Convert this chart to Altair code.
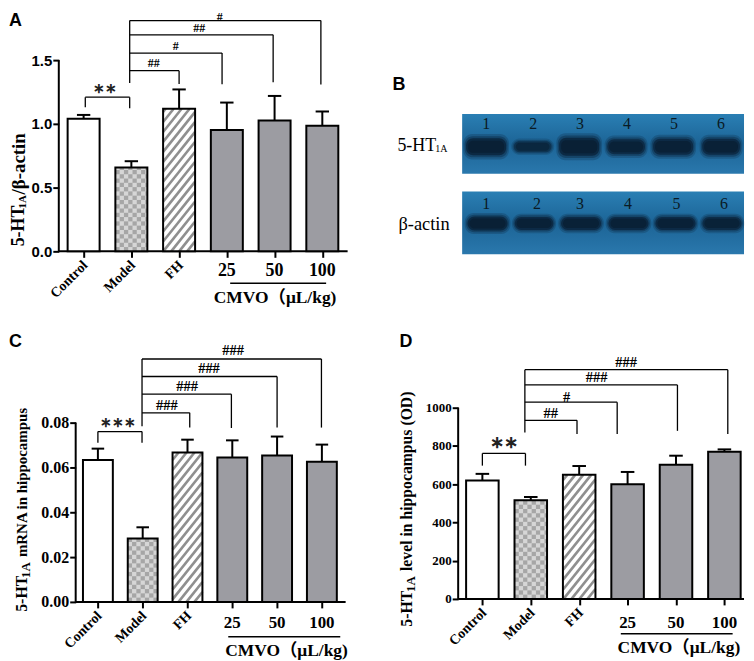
import altair as alt
import pandas as pd

SERIF = "Liberation Serif"
SANS = "Liberation Sans"
SERIF_CJK = "Liberation Serif, Noto Sans CJK SC"

# ---------------------------------------------------------
# DATA
# ---------------------------------------------------------
groups = ["Control", "Model", "FH", "25", "50", "100"]

a_means = [1.04, 0.658, 1.118, 0.951, 1.027, 0.985]
a_tops = [1.07, 0.707, 1.27, 1.167, 1.219, 1.097]
a_ticks = [0.0, 0.5, 1.0, 1.5]
a_links = [1.417, 1.555, 1.698, 1.81]
a_link_x = [2.0, 2.9, 3.97, 4.97]
a_link_ends = [1.313, 1.31, 1.326, 1.308]
a_hash = ["##", "#", "##", "#"]
a_hash_x = [1.47, 1.93, 2.42, 2.85]
a_hash_y = [1.477, 1.607, 1.755, 1.836]

c_means = [0.0633, 0.0283, 0.0667, 0.0644, 0.0653, 0.0625]
c_tops = [0.0684, 0.0333, 0.0724, 0.0721, 0.0738, 0.0702]
c_ticks = [0.0, 0.02, 0.04, 0.06, 0.08]
c_links = [0.0844, 0.0927, 0.1006, 0.1084]
c_link_x = [2.05, 2.98, 4.0, 4.99]
c_link_ends = [0.0778, 0.0776, 0.0778, 0.0778]
c_hash = ["###", "###", "###", "###"]
c_hash_x = [1.54, 1.99, 2.48, 3.02]
c_hash_y = [0.0875, 0.0958, 0.1038, 0.1118]

d_means = [619, 516, 649, 600, 702, 770]
d_tops = [654, 533, 695, 664, 749, 782]
d_ticks = [0, 200, 400, 600, 800, 1000]
d_links = [934, 1029, 1119, 1199]
d_link_x = [1.955, 2.785, 4.03, 5.07]
d_link_ends = [862, 862, 879, 863]
d_hash = ["##", "#", "###", "###"]
d_hash_x = [1.41, 1.74, 2.36, 2.97]
d_hash_y = [967, 1052, 1156, 1233]

# blot: lane centres, band widths (lane units), band heights and darkness
lanes = [1, 2, 3, 4, 5, 6]
top_lane_x = [1.0, 1.99, 2.98, 3.98, 4.98, 6.0]
top_band_w = [0.85, 0.8, 0.85, 0.8, 0.85, 0.8]
top_band_h = [17, 11, 18, 15, 16, 16]
top_band_k = [1.0, 0.75, 1.0, 0.9, 0.95, 0.95]
low_lane_x = [1.03, 2.02, 3.02, 4.03, 5.03, 6.02]
low_label_x = [1.0, 2.08, 3.0, 4.02, 5.05, 6.06]
low_band_w = [0.85, 0.82, 0.85, 0.85, 0.85, 0.83]
low_band_h = [14, 13, 13, 13, 13, 13]
low_band_k = [1.0, 0.95, 0.95, 0.95, 0.95, 0.9]


# ---------------------------------------------------------
# HATCHING HELPERS (fills drawn as marks)
# ---------------------------------------------------------
def checker_cells(x0, x1, y1, ux, uy, cell=4.3):
    rows = []
    nx = int((x1 - x0) / ux / cell) + 1
    ny = int(y1 / uy / cell) + 1
    for i in range(nx):
        for j in range(ny):
            if (i + j) % 2 == 0:
                rows.append({
                    "x": x0 + i * cell * ux,
                    "x2": min(x1, x0 + (i + 1) * cell * ux),
                    "y": j * cell * uy,
                    "y2": min(y1, (j + 1) * cell * uy),
                })
    return pd.DataFrame(rows)


def stripe_lines(x0, x1, y1, ux, uy, step=8.0):
    # rising lines clipped to the bar, worked out in pixels
    w = (x1 - x0) / ux
    h = y1 / uy
    slope = 1.25
    rows = []
    c = -w * slope
    while c < h:
        xa = max(0.0, -c / slope)
        xb = min(w, (h - c) / slope)
        if xb > xa:
            rows.append({
                "x": x0 + xa * ux,
                "x2": x0 + xb * ux,
                "y": (c + slope * xa) * uy,
                "y2": (c + slope * xb) * uy,
            })
        c += step * slope
    return pd.DataFrame(rows)


# ---------------------------------------------------------
# BAR PANEL
# ---------------------------------------------------------
def bar_panel(means, tops, ticks, fmt, links, link_x, link_ends, model_x, model_end,
              hash_text, hash_x, hash_y, hash_size, star, width, height, y_top, x_dom, axis_x, bar_w,
              tick_font, tick_size, title_parts, letter, letter_xy, label_size, num_size, num_dy,
              cmvo_dy, line_dy, line_x, cmvo_x):
    xs = alt.Scale(domain=x_dom, nice=False, zero=False)
    ys = alt.Scale(domain=[0, y_top], nice=False, zero=False)
    ux = (x_dom[1] - x_dom[0]) / width
    uy = y_top / height
    y_offset = -(axis_x - x_dom[0]) / ux

    x_axis = alt.Axis(
        values=list(range(6)), labels=False, title=None, grid=False, domain=False,
        tickColor="black", tickWidth=2, tickSize=6)
    y_axis = alt.Axis(
        values=ticks, format=fmt, title=None, grid=False, domain=False, offset=y_offset,
        tickColor="black", tickWidth=2, tickSize=6, labelFont=tick_font,
        labelFontWeight="bold", labelFontSize=tick_size, labelColor="black", labelPadding=1)

    def X(f="x"):
        return alt.X(f"{f}:Q", scale=xs, axis=x_axis)

    def Y(f="y"):
        return alt.Y(f"{f}:Q", scale=ys, axis=y_axis)

    bars = pd.DataFrame({
        "x": [i - bar_w / 2 for i in range(6)],
        "x2": [i + bar_w / 2 for i in range(6)],
        "y": [0] * 6,
        "y2": means,
        "fill": ["#ffffff", "#d6d6d6", "#ffffff", "#9c9ca2", "#9c9ca2", "#9c9ca2"],
    })
    errs = pd.DataFrame({"x": list(range(6)), "y": means, "y2": tops})
    caps = pd.DataFrame({
        "x": [i - 0.14 for i in range(6)],
        "x2": [i + 0.14 for i in range(6)],
        "y": tops,
    })

    axis_lines = pd.DataFrame({
        "x": [axis_x, axis_x],
        "x2": [axis_x, x_dom[1]],
        "y": [0, 0],
        "y2": [ticks[-1], 0],
    })
    axes = alt.Chart(axis_lines).mark_rule(color="black", strokeWidth=2).encode(
        x=X(), x2="x2:Q", y=Y(), y2="y2:Q")

    fill = alt.Chart(bars).mark_rect().encode(
        x=X(), x2="x2:Q", y=Y(), y2="y2:Q", color=alt.Color("fill:N", scale=None))
    model_cells = checker_cells(1 - bar_w / 2, 1 + bar_w / 2, means[1], ux, uy)
    checks = alt.Chart(model_cells).mark_rect(color="#a6a6a6").encode(
        x=X(), x2="x2:Q", y=Y(), y2="y2:Q")
    stripes = alt.Chart(stripe_lines(2 - bar_w / 2, 2 + bar_w / 2, means[2], ux, uy)).mark_rule(
        color="#8f8f8f", strokeWidth=2.6).encode(x=X(), x2="x2:Q", y=Y(), y2="y2:Q")
    outline = alt.Chart(bars).mark_rect(
        fillOpacity=0, stroke="black", strokeWidth=2).encode(
        x=X(), x2="x2:Q", y=Y(), y2="y2:Q")
    stems = alt.Chart(errs).mark_rule(color="black", strokeWidth=2).encode(
        x=X(), y=Y(), y2="y2:Q")
    cap_marks = alt.Chart(caps).mark_rule(color="black", strokeWidth=2).encode(
        x=X(), x2="x2:Q", y=Y())

    # significance brackets
    seg = []
    seg.append({"x": model_x, "x2": model_x, "y": model_end, "y2": links[-1]})
    for top, xe, end in zip(links, link_x, link_ends):
        seg.append({"x": model_x, "x2": xe, "y": top, "y2": top})
        seg.append({"x": xe, "x2": xe, "y": end, "y2": top})
    s = star
    seg.append({"x": s["x0"], "x2": s["x1"], "y": s["top"], "y2": s["top"]})
    seg.append({"x": s["x0"], "x2": s["x0"], "y": s["left"], "y2": s["top"]})
    seg.append({"x": s["x1"], "x2": s["x1"], "y": s["right"], "y2": s["top"]})
    brackets = alt.Chart(pd.DataFrame(seg)).mark_rule(color="black", strokeWidth=1.3).encode(
        x=X(), x2="x2:Q", y=Y(), y2="y2:Q")

    hashes = alt.Chart(pd.DataFrame({"x": hash_x, "y": hash_y, "t": hash_text})).mark_text(
        font=SERIF, fontWeight="bold", fontSize=hash_size, color="black", baseline="middle"
    ).encode(x=X(), y=Y(), text="t:N")
    stars = alt.Chart(pd.DataFrame({"x": [s["tx"]], "y": [s["ty"]], "t": [s["text"]]})).mark_text(
        font=SERIF, fontWeight="bold", fontSize=s["size"], color="#222222", baseline="middle"
    ).encode(x=X(), y=Y(), text="t:N")

    # x labels: first three slanted, doses level
    slanted = alt.Chart(pd.DataFrame({"x": [0.04, 1.04, 2.04], "t": groups[:3]})).mark_text(
        font=SERIF, fontWeight="bold", fontSize=label_size, angle=315, align="right",
        baseline="middle", color="black"
    ).encode(x=X(), y=alt.value(height + 12), text="t:N")
    doses = alt.Chart(pd.DataFrame({"x": [3.0, 4.0, 5.0], "t": groups[3:]})).mark_text(
        font=SERIF, fontWeight="bold", fontSize=num_size, baseline="middle", color="black"
    ).encode(x=X(), y=alt.value(height + num_dy), text="t:N")
    under = alt.Chart(pd.DataFrame({"x": [line_x[0]], "x2": [line_x[1]]})).mark_rule(
        color="black", strokeWidth=1.5
    ).encode(x=X(), x2="x2:Q", y=alt.value(height + line_dy))
    cmvo = alt.Chart(pd.DataFrame({"x": [cmvo_x], "t": ["CMVO（μL/kg)"]})).mark_text(
        font=SERIF_CJK, fontWeight="bold", fontSize=17.5, baseline="middle", color="black"
    ).encode(x=X(), y=alt.value(height + cmvo_dy), text="t:N")

    layers = [axes, fill, checks, stripes, outline, stems, cap_marks, brackets,
              hashes, stars, slanted, doses, under, cmvo]

    # y title pieces and panel letter
    for txt, px, py, size in title_parts:
        layers.append(
            alt.Chart(pd.DataFrame({"t": [txt]})).mark_text(
                font=SERIF, fontWeight="bold", fontSize=size, angle=270, align="left",
                baseline="middle", color="black"
            ).encode(x=alt.value(px), y=alt.value(py), text="t:N")
        )
    layers.append(panel_letter(letter, letter_xy))
    return alt.layer(*layers).properties(width=width, height=height)


def panel_letter(letter, xy):
    return alt.Chart(pd.DataFrame({"t": [letter]})).mark_text(
        font=SANS, fontWeight="bold", fontSize=18, align="left", baseline="middle", color="black"
    ).encode(x=alt.value(xy[0]), y=alt.value(xy[1]), text="t:N")


# ---------------------------------------------------------
# BLOT PANEL
# ---------------------------------------------------------
def blot_panel():
    width = 283
    height = 245
    xs = alt.Scale(domain=[0.49, 6.488], nice=False, zero=False)
    ys = alt.Scale(domain=[245, 0], nice=False, zero=False)

    def X():
        return alt.X("x:Q", scale=xs, axis=None)

    def Y():
        return alt.Y("y:Q", scale=ys, axis=None)

    gel = alt.LinearGradient(
        gradient="linear", x1=0, x2=0, y1=0, y2=1,
        stops=[alt.GradientStop(offset=0, color="#2a7fb4"),
               alt.GradientStop(offset=0.5, color="#1c6496"),
               alt.GradientStop(offset=1, color="#2a78ad")],
    )
    gels = pd.DataFrame({"x": [0.49, 0.49], "x2": [6.488, 6.488], "y": [104, 182], "y2": [164, 245]})
    layers = [alt.Chart(gels).mark_rect(color=gel).encode(x=X(), x2="x2:Q", y=Y(), y2="y2:Q")]

    for lane_x, band_w, band_h, band_k, cy in [
        (top_lane_x, top_band_w, top_band_h, top_band_k, 137),
        (low_lane_x, low_band_w, low_band_h, low_band_k, 214),
    ]:
        for grow, tall, alpha, radius in [(1.14, 1.5, 0.22, 9), (1.07, 1.25, 0.35, 8), (1.0, 1.0, 0.65, 7), (0.9, 0.72, 0.7, 5)]:
            rows = []
            for xc, w, h, k in zip(lane_x, band_w, band_h, band_k):
                rows.append({
                    "x": xc - w * grow / 2, "x2": xc + w * grow / 2,
                    "y": cy - h * tall / 2, "y2": cy + h * tall / 2,
                    "a": alpha * k,
                })
            layers.append(
                alt.Chart(pd.DataFrame(rows)).mark_rect(color="#081c30", cornerRadius=radius).encode(
                    x=X(), x2="x2:Q", y=Y(), y2="y2:Q",
                    opacity=alt.Opacity("a:Q", scale=None))
            )

    for lane_x, cy in [(lanes, 114), (low_label_x, 194)]:
        layers.append(
            alt.Chart(pd.DataFrame({"x": lane_x, "y": [cy] * 6, "t": [str(n) for n in lanes]})).mark_text(
                font=SERIF, fontSize=16, color="#0a1a24", baseline="middle"
            ).encode(x=X(), y=Y(), text="t:N")
        )

    for txt, px, py, size in [("5-HT", -65, 136, 18), ("1A", -27, 139, 10), ("β-actin", -64, 215, 18.5)]:
        layers.append(
            alt.Chart(pd.DataFrame({"t": [txt]})).mark_text(
                font=SERIF, fontSize=size, align="left", baseline="middle", color="black"
            ).encode(x=alt.value(px), y=alt.value(py), text="t:N")
        )
    layers.append(panel_letter("B", (-70, 75)))
    return alt.layer(*layers).properties(width=width, height=height)


# ---------------------------------------------------------
# PANELS
# ---------------------------------------------------------
panel_a = bar_panel(
    a_means, a_tops, a_ticks, ".1f", a_links, a_link_x, a_link_ends, 0.965, 1.32,
    a_hash, a_hash_x, a_hash_y, 12,
    {"x0": 0.035, "x1": 0.965, "top": 1.209, "left": 1.131, "right": 1.123,
     "tx": 0.44, "ty": 1.27, "text": "∗∗", "size": 14},
    290, 242, 1.890625, [-0.52, 5.53], -0.52, 0.67, SANS, 15,
    [("5-HT", -40, 237, 18), ("1A", -36, 199, 11), ("/β-actin", -40, 185, 19)],
    "A", (-50, 11), 14, 18, 20, 47, 32, [3.07, 5.08], 4.01,
)
panel_c = bar_panel(
    c_means, c_tops, c_ticks, ".2f", c_links, c_link_x, c_link_ends, 0.985, 0.0784,
    c_hash, c_hash_x, c_hash_y, 14.5,
    {"x0": 0.0, "x1": 0.985, "top": 0.076, "left": 0.071, "right": 0.071,
     "tx": 0.45, "ty": 0.0798, "text": "∗∗∗", "size": 14},
    288, 267, 0.11867, [-0.873, 5.53], -0.496, 0.667, SERIF, 16,
    [("5-HT", -37, 277, 16), ("1A", -33, 243, 13), ("mRNA in hippocampus", -37, 222, 15)],
    "C", (-50, 6), 14, 17, 21, 49, 35, [2.91, 5.41], 4.21,
)
panel_d = bar_panel(
    d_means, d_tops, d_ticks, "d", d_links, d_link_x, d_link_ends, 0.878, 870,
    d_hash, d_hash_x, d_hash_y, 14.5,
    {"x0": 0.0, "x1": 0.89, "top": 761, "left": 697, "right": 697,
     "tx": 0.45, "ty": 813, "text": "∗∗", "size": 17},
    287, 264, 1375, [-0.5, 5.405], -0.5, 0.672, SERIF, 13,
    [("5-HT", -51, 292, 16), ("1A", -47, 257, 13), ("level in hippocampus (OD)", -51, 236, 15.8)],
    "D", (-59, 6), 14, 17, 24, 49, 35, [2.86, 5.17], 4.06,
)

top_row = alt.hconcat(panel_a, blot_panel(), spacing=115, bounds="flush")
bottom_row = alt.hconcat(panel_c, panel_d, spacing=113, bounds="flush")

chart = alt.vconcat(top_row, bottom_row, spacing=25).properties(
    padding=0
).configure_view(stroke="transparent")

chart.save("out.html", embed_options={"renderer": "svg", "actions": False})
